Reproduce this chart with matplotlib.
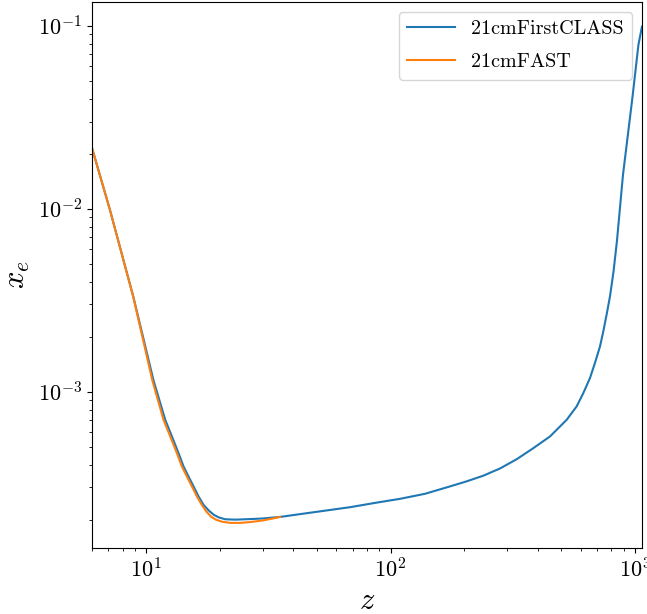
import matplotlib
matplotlib.use("Agg")
import matplotlib.pyplot as plt

plt.rcParams['mathtext.fontset'] = 'cm'
plt.rcParams['font.family'] = 'serif'
plt.rcParams['font.serif'] = ['cmr10']
plt.rcParams['axes.formatter.use_mathtext'] = True

# 21cmFirstCLASS: redshift vs free electron fraction
z_class = [6.0, 7.1, 8.85, 10.7, 11.96, 12.74, 13.56, 14.21, 14.9, 15.62,
           16.37, 17.16, 17.99, 18.86, 19.76, 21.04, 23.12, 25.4, 27.9, 30.0,
           35.3, 42.7, 53.96, 68.3, 86.4, 109.4, 138.4, 175.1, 204.9, 239.8,
           280.5, 328.1, 383.9, 449.1, 525.5, 577.3, 614.7, 654.6, 686.2,
           719.3, 742.2, 765.8, 790.2, 816.8, 844.0, 893.0, 977.0, 1033.0,
           1068.0]
xe_class = [0.0215, 9.9e-3, 3.32e-3, 1.16e-3, 7.03e-4, 5.70e-4, 4.62e-4,
            3.91e-4, 3.44e-4, 3.04e-4, 2.68e-4, 2.41e-4, 2.25e-4, 2.13e-4,
            2.06e-4, 2.01e-4, 2.0e-4, 2.01e-4, 2.02e-4, 2.03e-4, 2.07e-4,
            2.145e-4, 2.24e-4, 2.34e-4, 2.47e-4, 2.60e-4, 2.77e-4, 3.04e-4,
            3.24e-4, 3.48e-4, 3.81e-4, 4.28e-4, 4.92e-4, 5.7e-4, 7.03e-4,
            8.32e-4, 9.84e-4, 1.19e-3, 1.44e-3, 1.77e-3, 2.14e-3, 2.65e-3,
            3.32e-3, 4.53e-3, 6.69e-3, 0.0153, 0.0409, 0.0787, 0.099]

# 21cmFAST
z_fast = [6.0, 7.1, 8.85, 10.6, 11.77, 12.54, 13.35, 13.99, 14.67, 15.38,
          16.12, 16.89, 17.60, 18.39, 19.28, 20.40, 22.06, 24.24, 26.63, 30.0,
          33.0, 35.3]
xe_fast = [0.0215, 9.9e-3, 3.3e-3, 1.15e-3, 7.03e-4, 5.70e-4, 4.62e-4,
           3.91e-4, 3.44e-4, 3.04e-4, 2.68e-4, 2.41e-4, 2.22e-4, 2.08e-4,
           2.0e-4, 1.95e-4, 1.92e-4, 1.92e-4, 1.94e-4, 1.98e-4, 2.03e-4,
           2.07e-4]

fig = plt.figure(figsize=(6.47, 6.14), dpi=100)
ax = fig.add_axes([0.1422, 0.1075, 0.85, 0.8892])

ax.plot(z_class, xe_class, color='C0', lw=1.5, label='21cmFirstCLASS')
ax.plot(z_fast, xe_fast, color='C1', lw=1.5, label='21cmFAST')

ax.set_xscale('log')
ax.set_yscale('log')
ax.set_xlim(6.0, 1068)
ax.set_ylim(1.4e-4, 0.135)

ax.set_xlabel(r'$z$', fontsize=22)
ax.set_ylabel(r'$x_e$', fontsize=22)
ax.tick_params(labelsize=16)
ax.legend(loc='upper right', fontsize=14.5, labelspacing=0.75,
          handlelength=2.4)

fig.savefig('out.png', dpi=100)
